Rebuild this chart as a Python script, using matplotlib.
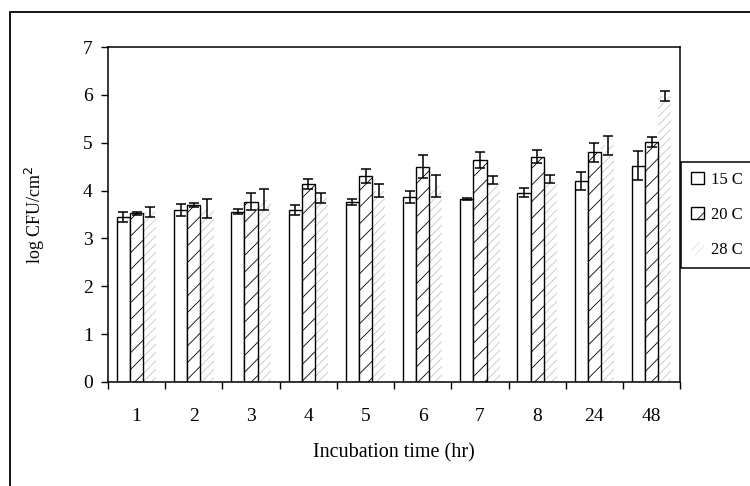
import numpy as np
import matplotlib
matplotlib.use("Agg")
import matplotlib.pyplot as plt
from matplotlib.patches import Rectangle, Patch

# incubation times (hr) shown as categories
times = ["1", "2", "3", "4", "5", "6", "7", "8", "24", "48"]

# mean log CFU/cm2 per temperature
cfu_15 = [3.45, 3.60, 3.56, 3.60, 3.76, 3.87, 3.82, 3.96, 4.20, 4.52]
cfu_20 = [3.53, 3.70, 3.77, 4.14, 4.31, 4.50, 4.64, 4.71, 4.80, 5.02]
cfu_28 = [3.55, 3.62, 3.81, 3.85, 4.00, 4.10, 4.22, 4.24, 4.95, 5.98]

# standard deviations
sd_15 = [0.10, 0.12, 0.05, 0.10, 0.07, 0.12, 0.02, 0.10, 0.19, 0.30]
sd_20 = [0.03, 0.05, 0.18, 0.10, 0.15, 0.24, 0.17, 0.14, 0.20, 0.10]
sd_28 = [0.10, 0.20, 0.22, 0.10, 0.13, 0.23, 0.08, 0.08, 0.20, 0.11]

plt.rcParams["font.family"] = ["Liberation Serif", "DejaVu Serif"]
plt.rcParams["hatch.linewidth"] = 0.6

fig = plt.figure(figsize=(7.5, 4.86), dpi=100)
ax = fig.add_axes([0.144, 0.214, 0.763, 0.689])

x = np.arange(len(times))
w = 0.23
err_kw = dict(ecolor="black", elinewidth=1.1, capsize=3.5, capthick=1.1)

ax.bar(x - w, cfu_15, w, color="white", edgecolor="black", linewidth=1.0,
       yerr=sd_15, error_kw=err_kw, zorder=2)
ax.bar(x, cfu_20, w, color="white", edgecolor="black", linewidth=1.0,
       hatch="//", yerr=sd_20, error_kw=err_kw, zorder=2)
ax.bar(x + w, cfu_28, w, color="white", edgecolor="#c6c6c6", linewidth=0,
       hatch="////", yerr=sd_28, error_kw=err_kw, zorder=1)

ax.set_xlim(-0.5, len(times) - 0.5)
ax.set_ylim(0, 7)
ax.set_yticks(range(0, 8))

# group boundaries get tick marks, labels sit in the middle of each group
ax.set_xticks(np.arange(-0.5, len(times), 1.0))
ax.set_xticklabels([])
ax.set_xticks(x, minor=True)
ax.set_xticklabels(times, minor=True)
ax.tick_params(axis="x", which="minor", length=0, pad=19, labelsize=14)
ax.tick_params(axis="x", which="major", direction="out", length=5, width=1)
ax.tick_params(axis="y", direction="out", length=5, width=1, labelsize=14, pad=6)

for side in ax.spines.values():
    side.set_linewidth(1.1)

ax.set_xlabel("Incubation time (hr)", fontsize=14.5, labelpad=13)
ax.set_ylabel("log CFU/cm$^2$", fontsize=13, labelpad=26)

handles = [
    Patch(facecolor="white", edgecolor="black", linewidth=1.0, label="15 C"),
    Patch(facecolor="white", edgecolor="black", linewidth=1.0, hatch="//", label="20 C"),
    Patch(facecolor="white", edgecolor="#e0e0e0", linewidth=0, hatch="////", label="28 C"),
]
leg = fig.legend(handles=handles, loc="upper left",
                 bbox_to_anchor=(681 / 750, 1 - 162 / 486), borderaxespad=0,
                 fontsize=12, handlelength=0.75, handleheight=0.75,
                 handletextpad=0.45, labelspacing=1.15, borderpad=0.6,
                 fancybox=False, framealpha=1)
leg.get_frame().set_edgecolor("black")
leg.get_frame().set_linewidth(1.1)

# outer border around the chart area
fig.patches.append(Rectangle((10 / 750, -0.1), 1.2, 1.075, transform=fig.transFigure,
                             fill=False, edgecolor="black", linewidth=1.3))

fig.savefig("out.png", dpi=100, facecolor="white")
